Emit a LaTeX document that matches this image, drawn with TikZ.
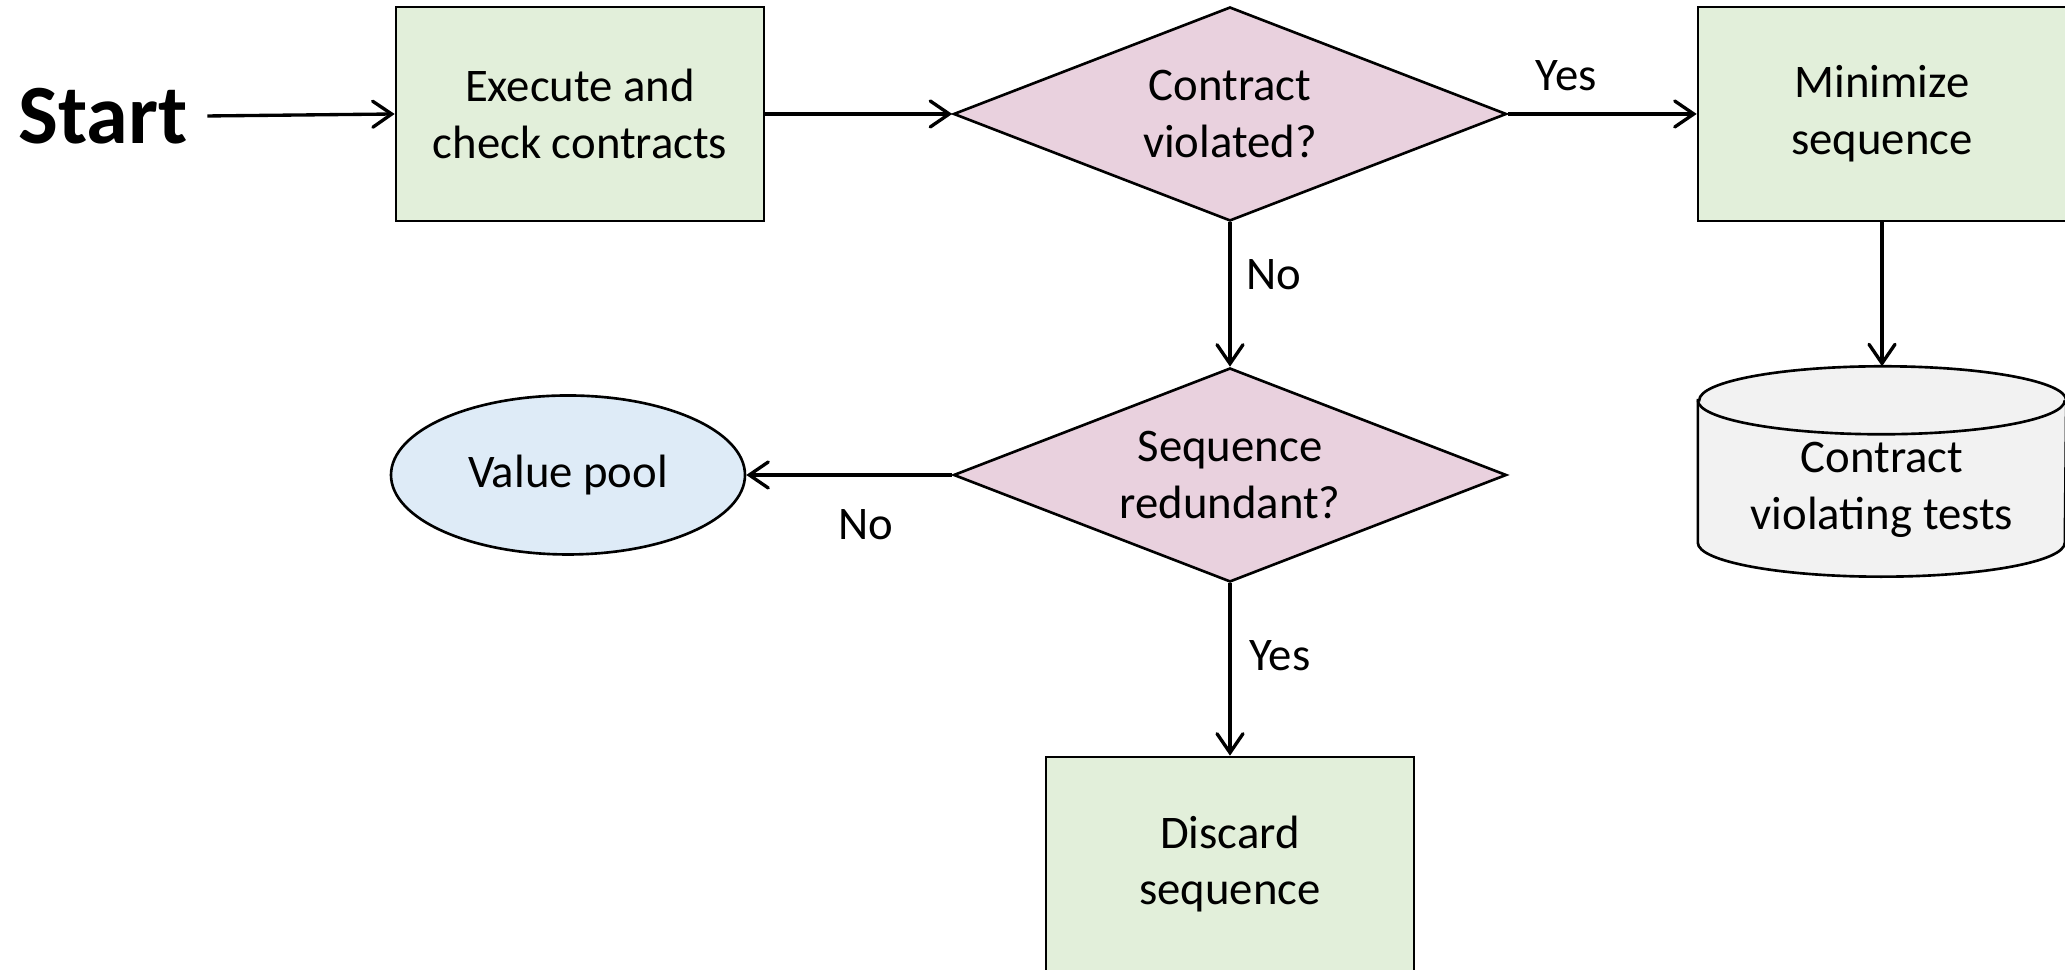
\documentclass[tikz,border=0pt]{standalone}
\usepackage{fontspec}
\setmainfont{Carlito}
\usetikzlibrary{arrows.meta,shapes.geometric,calc,backgrounds}
\definecolor{stepgreen}{HTML}{E2EFDA}
\definecolor{testpink}{HTML}{E9D1DE}
\definecolor{poolblue}{HTML}{DEEBF7}
\definecolor{storegrey}{HTML}{F2F2F2}

\begin{document}
\begin{tikzpicture}[
  x=0.1mm, y=0.1mm,
  font=\fontsize{13.3}{16.1}\selectfont,
  action/.style={draw=black, line width=0.75pt, fill=stepgreen, align=center,
                 minimum width=36.8mm, minimum height=21.4mm, inner sep=0pt},
  test/.style={diamond, draw=black, line width=0.75pt, fill=testpink, align=center,
               aspect=2.58, minimum width=55.3mm, minimum height=21.4mm, inner sep=0pt},
  pool/.style={ellipse, draw=black, line width=0.75pt, fill=poolblue,
               minimum width=35.4mm, minimum height=15.9mm, inner sep=0pt},
  store/.style={align=center, minimum width=36.7mm, minimum height=24.6mm, inner sep=0pt},
  flow/.style={-{Straight Barb[length=1.9mm, width=2.6mm, line cap=round]}, line width=0.95pt},
  lbl/.style={inner sep=0pt},
]
\useasboundingbox (0,0) rectangle (2065,970);

% ---------------- top row ------------------------------------------
\node[font=\fontsize{24}{28}\selectfont\bfseries, inner xsep=1.9mm, inner ysep=0pt]
  (start) at (103,854) {Start};
\node[action] (exec) at (580,856) {Execute and\\check contracts};
\node[test] (violated) at (1230,856) {Contract\\violated?};
\node[action] (minimize) at (1882,856) {Minimize\\sequence};

% ---------------- middle row ---------------------------------------
\node[test] (redundant) at (1230,495) {Sequence\\redundant?};
\node[pool] (pool) at (568,495) {Value pool};
\node[store] (tests) at (1882,480) {Contract\\violating tests};

% ---------------- bottom -------------------------------------------
\node[action] (discard) at (1230,106) {Discard\\sequence};

% ---------------- cylinder behind the text -------------------------
\begin{scope}[on background layer]
  \filldraw[fill=storegrey, line width=0.75pt]
    ($(tests.north west)+(0,-3.4mm)$) -- ($(tests.south west)+(0,7.1mm)$)
    arc[start angle=180, end angle=360, x radius=18.35mm, y radius=3.4mm]
    -- ($(tests.north east)+(0,-3.4mm)$)
    arc[start angle=0, end angle=180, x radius=18.35mm, y radius=3.4mm] -- cycle;
  \draw[line width=0.75pt] ($(tests.north west)+(0,-3.4mm)$)
    arc[start angle=180, end angle=360, x radius=18.35mm, y radius=3.4mm];
\end{scope}

% ---------------- connectors ---------------------------------------
\draw[flow] (start.east) -- (exec.west);
\draw[flow] (exec.east) -- (violated.west);
\draw[flow] (violated.east) -- node[lbl, pos=0.31, yshift=3.8mm] {Yes} (minimize.west);
\draw[flow] (minimize.south) -- (tests.north);
\draw[flow] (violated.south) -- node[lbl, pos=0.36, xshift=4.4mm] {No} (redundant.north);
\draw[flow] (redundant.west) -- node[lbl, pos=0.42, yshift=-5mm] {No} (pool.east);
\draw[flow] (redundant.south) -- node[lbl, pos=0.42, xshift=5mm] {Yes} (discard.north);

\end{tikzpicture}
\end{document}
